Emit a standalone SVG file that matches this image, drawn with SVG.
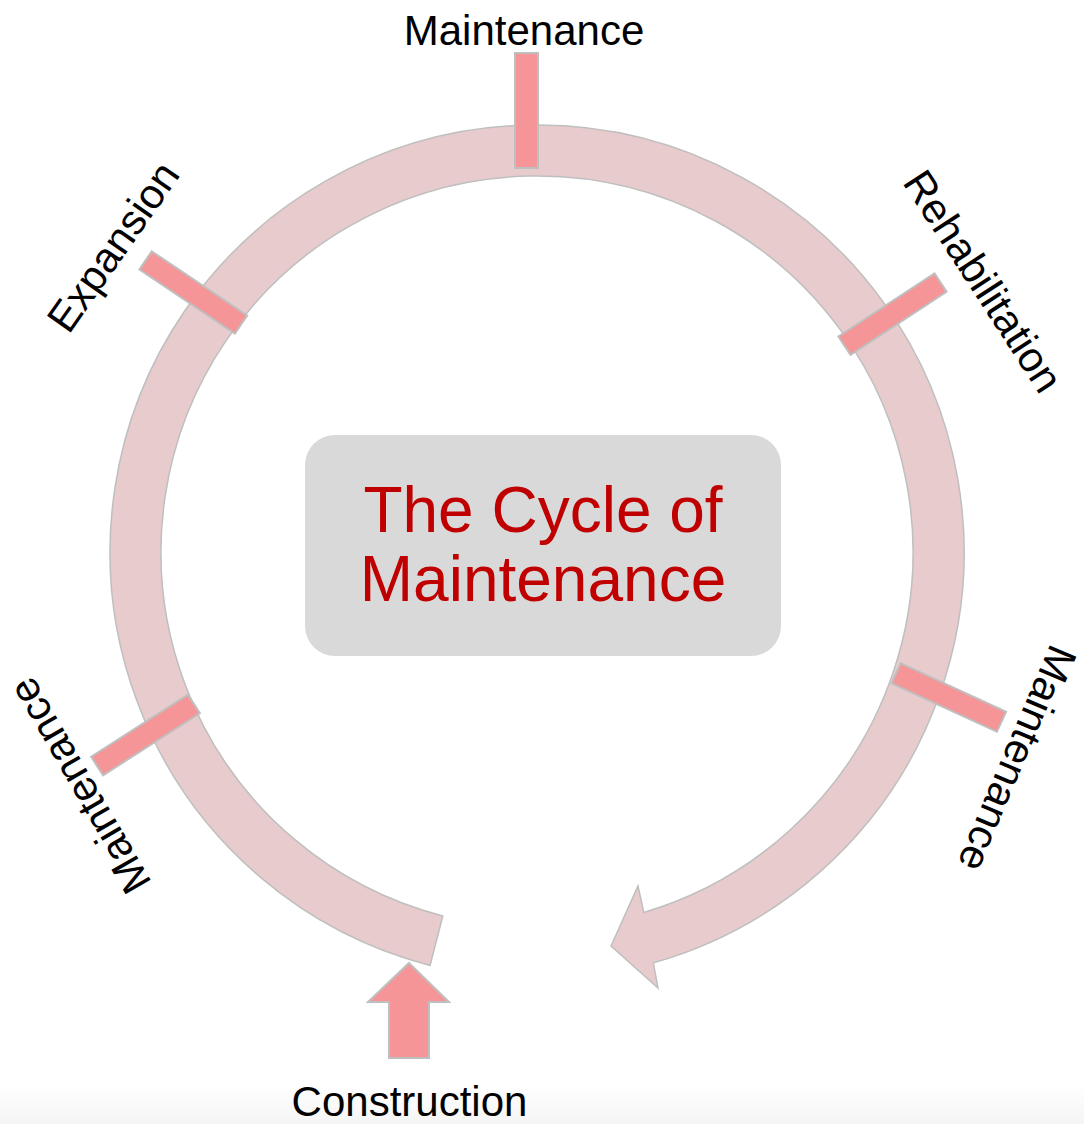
<svg xmlns="http://www.w3.org/2000/svg" width="1084" height="1124" viewBox="0 0 1084 1124">
  <defs>
    <linearGradient id="bottomFade" x1="0" y1="0" x2="0" y2="1">
      <stop offset="0" stop-color="#ffffff"/>
      <stop offset="1" stop-color="#f5f5f5"/>
    </linearGradient>
  </defs>
  <style>
    .ring { fill: #E8CBCC; stroke: #BFBFBF; stroke-width: 1.5; stroke-linejoin: miter; }
    .tick { fill: #F59597; stroke: #BFBFBF; stroke-width: 2; }
    .lbl { font-family: "Liberation Sans", Arial, sans-serif; font-size: 42px; fill: #000000; text-anchor: middle; }
    .title { font-family: "Liberation Sans", Arial, sans-serif; font-size: 64px; fill: #C00000; text-anchor: middle; }
  </style>
  <rect x="0" y="0" width="1084" height="1124" fill="#ffffff"/>
  <rect x="0" y="1085" width="1084" height="39" fill="url(#bottomFade)"/>

  <g id="connectors">
    <path class="ring" d="M430.1,965.4 A427,427 0 1 1 653.3,962.9 L658,988 L611,946 L638,886 L643.8,912.5 A376,376 0 1 0 442.8,916 Z"/>
    <polygon class="tick" points="409,963 449,1002 429,1002 429,1058 389,1058 389,1002 368,1002"/>
  </g>

  <g id="center">
    <rect x="305" y="435" width="476" height="221" rx="30" ry="30" fill="#D9D9D9"/>
    <text class="title" x="543" y="532">The Cycle of</text>
    <text class="title" x="543" y="601">Maintenance</text>
  </g>

  <g id="maintenance-top">
    <rect class="tick" x="515" y="53" width="23" height="115"/>
    <text class="lbl" x="524" y="45">Maintenance</text>
  </g>

  <g id="expansion">
    <rect class="tick" x="-57.5" y="-11" width="115" height="22" transform="translate(193.3,292.5) rotate(33.9)"/>
    <text class="lbl" transform="translate(125,255) rotate(-55)">Expansion</text>
  </g>

  <g id="rehabilitation">
    <rect class="tick" x="-57.5" y="-11" width="115" height="22" transform="translate(892.5,314.2) rotate(-33.3)"/>
    <text class="lbl" transform="translate(971,289) rotate(57)">Rehabilitation</text>
  </g>

  <g id="maintenance-left">
    <rect class="tick" x="-57.5" y="-11" width="115" height="22" transform="translate(145.5,735) rotate(-32.7)"/>
    <text class="lbl" transform="translate(92,778.5) rotate(-120)">Maintenance</text>
  </g>

  <g id="maintenance-right">
    <rect class="tick" x="-58" y="-11" width="116" height="22" transform="translate(948.8,697.5) rotate(24.7)"/>
    <text class="lbl" transform="translate(1004,753) rotate(113)">Maintenance</text>
  </g>

  <g id="construction">
    <text class="lbl" x="409.5" y="1116">Construction</text>
  </g>
</svg>
